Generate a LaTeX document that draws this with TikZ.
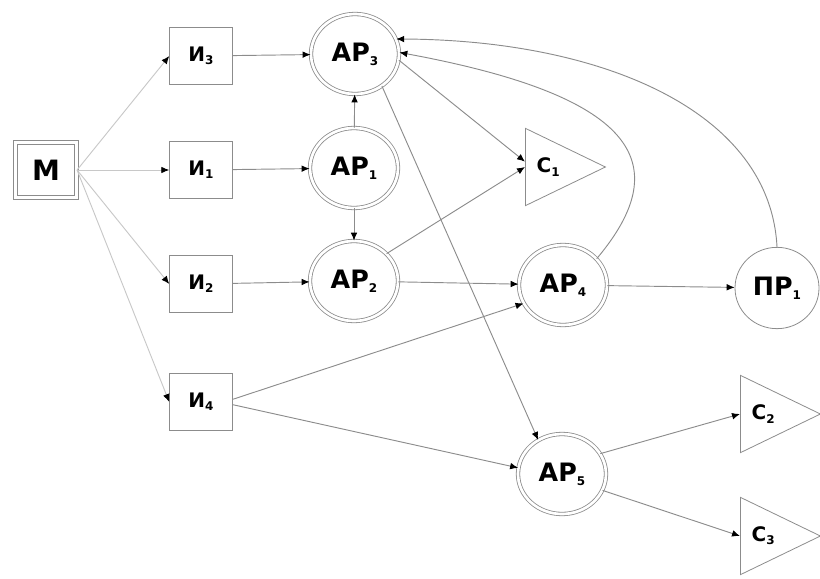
\documentclass[tikz,border=0pt]{standalone}
\usepackage{fontspec}
\setmainfont{DejaVu Sans}
\usepackage{xcolor}
\usetikzlibrary{shapes.geometric,arrows.meta}
\definecolor{lineGray}{RGB}{140,140,140}
\definecolor{lightGray}{RGB}{200,200,200}
\newcommand{\ix}[1]{\raisebox{-0.3ex}{\fontsize{9}{9}\selectfont #1}}

\begin{document}
\begin{tikzpicture}[x=0.75pt,y=-0.75pt,
                srcbox/.style={rectangle,draw=lineGray,double,double distance=2.2pt,line width=0.6pt,
                            minimum width=46pt,minimum height=41pt,font=\fontsize{21}{21}\selectfont\bfseries},
                inbox/.style={rectangle,draw=lineGray,line width=0.6pt,
                            minimum width=47pt,minimum height=43pt,font=\fontsize{15}{15}\selectfont\bfseries},
                arnode/.style={ellipse,draw=lineGray,double,double distance=2pt,line width=0.6pt,
                            minimum width=66pt,minimum height=60pt,inner sep=0pt,font=\fontsize{19}{19}\selectfont\bfseries},
                prnode/.style={ellipse,draw=lineGray,line width=0.6pt,
                            minimum width=63pt,minimum height=61pt,inner sep=0pt,font=\fontsize{19}{19}\selectfont\bfseries},
                sink/.style={isosceles triangle,isosceles triangle stretches,draw=lineGray,line width=0.6pt,
                            minimum width=58pt,minimum height=60pt,inner sep=1pt,anchor=lower side,
                            font=\fontsize{15}{15}\selectfont\bfseries},
                link/.style={draw=lineGray,line width=0.7pt,-{Latex[length=6pt,width=5pt,color=black]}},
                feed/.style={link,draw=lightGray}
            ]
                \useasboundingbox (0,0) rectangle (820,578);

                % source and inputs
                \node[srcbox] (m) at (46,170) {М};
                \node[inbox] (i3) at (201,56) {И\ix{3}};
                \node[inbox] (i1) at (201,170) {И\ix{1}};
                \node[inbox] (i2) at (201,284) {И\ix{2}};
                \node[inbox] (i4) at (201,402) {И\ix{4}};

                % processing nodes
                \node[arnode] (ar3) at (355,54) {АР\ix{3}};
                \node[arnode] (ar1) at (354,168) {АР\ix{1}};
                \node[arnode] (ar2) at (354,281) {АР\ix{2}};
                \node[arnode] (ar4) at (563,285) {АР\ix{4}};
                \node[arnode] (ar5) at (562,474) {АР\ix{5}};
                \node[prnode] (pr1) at (777,288) {ПР\ix{1}};

                % sinks
                \node[sink] (c1) at (525,167) {С\ix{1}};
                \node[sink] (c2) at (740,414) {С\ix{2}};
                \node[sink] (c3) at (740,536) {С\ix{3}};

                % connectors
                \foreach \t in {i3,i1,i2,i4}
                    \draw[feed] (m.east) -- (\t.west);
                \draw[link] (i3) -- (ar3);
                \draw[link] (i1) -- (ar1);
                \draw[link] (i2) -- (ar2);
                \draw[link] (ar1) -- (ar3);
                \draw[link] (ar1) -- (ar2);
                \draw[link] (ar3.-8) -- ([yshift=4pt]c1.lower side);
                \draw[link] (ar2.40) -- (c1.lower side);
                \draw[link] (ar3.-50) -- (ar5.125);
                \draw[link] (ar2) -- (ar4);
                \draw[link] ([yshift=2pt]i4.east) -- (ar4.205);
                \draw[link] ([yshift=-2pt]i4.east) -- (ar5.172);
                \draw[link] (ar4) -- (pr1);
                \draw[link] (ar5.28) -- (c2.lower side);
                \draw[link] (ar5.-22) -- (c3.lower side);
                \draw[link] (ar4.38) .. controls (680,160) and (630,95) .. (ar3.2);
                \draw[link] (pr1.north) .. controls (770,110) and (600,40) .. (ar3.20);
            \end{tikzpicture}
\end{document}
